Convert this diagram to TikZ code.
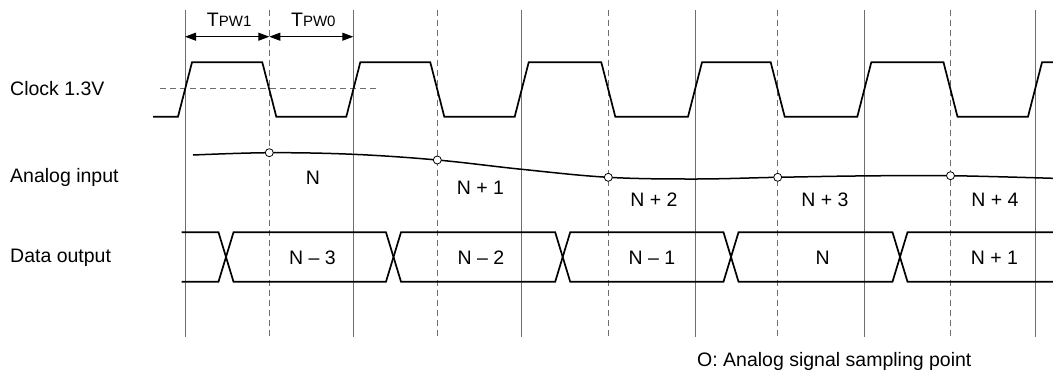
\documentclass[tikz,border=0pt]{standalone}
\usepackage{fontspec}
\setmainfont{Liberation Sans}
\usepackage{tikz}
\usetikzlibrary{calc,arrows.meta}
\definecolor{ink}{HTML}{000000}
\definecolor{grid}{HTML}{6E6E6E}
\tikzset{
  wave/.style={draw=ink, line width=1.7pt, line join=miter},
  solidgrid/.style={draw=grid, line width=0.9pt},
  dashgrid/.style={draw=grid, line width=0.9pt, dash pattern=on 6pt off 4pt},
  thresh/.style={draw=grid, line width=0.9pt, dash pattern=on 6pt off 4pt},
  dim/.style={draw=ink, line width=0.9pt, {Triangle[length=11pt,width=8pt]}-{Triangle[length=11pt,width=8pt]}},
  spl/.style={circle, draw=ink, fill=white, line width=0.8pt, inner sep=0pt, minimum size=8pt},
  lab/.style={text=ink, font=\fontsize{19.5}{21}\selectfont, inner sep=0pt},
  sig/.style={lab, anchor=west},
}
\newcommand{\tpw}[1]{T{\fontsize{15}{17}\selectfont PW#1}}

\begin{document}
\begin{tikzpicture}[x=1pt,y=-1pt]
  \useasboundingbox (0,0) rectangle (1053,376);
  \def\hi{62.3} \def\lo{116.7} \def\top{232.3} \def\bot{281.7} \def\mid{257}
  % time grid
  \foreach \x in {185,353.3,521.7,695,864.3,1035}
    \draw[solidgrid] (\x,10) -- (\x,337);
  \foreach \x in {269.3,437.3,608.3,777.7,950.5}
    \draw[dashgrid] (\x,10) -- (\x,337);
  % signal names
  \node[sig] (clk) at (10,89) {Clock 1.3V};
  \node[sig] (ain) at (10,177.5) {Analog input};
  \node[sig] (dout) at (10,258) {Data output};
  % pulse widths
  \coordinate (r0) at (185,36.7);
  \coordinate (f0) at (269.3,36.7);
  \coordinate (r1) at (353.3,36.7);
  \draw[dim] (r0) -- (f0);
  \draw[dim] (f0) -- (r1);
  \node[lab, anchor=base] (tpw1) at ($(r0)!0.5!(f0)+(2,-10)$) {\tpw{1}};
  \node[lab, anchor=base] (tpw0) at ($(f0)!0.5!(r1)+(2,-10)$) {\tpw{0}};
  % clock
  \draw[thresh] (160,88.3) -- (377,88.3);
  \draw[wave] (153,\lo) -- (178,\lo) -- (192,\hi)
    foreach \f/\r in {269.3/353.3,437.3/521.7,608.3/695,777.7/864.3,950.5/1035}
      { -- ({\f-7},\hi) -- ({\f+7},\lo) -- ({\r-7},\lo) -- ({\r+7},\hi) }
    -- (1053,\hi);
  % analog input
  \draw[wave, line width=1.5pt] plot[smooth, tension=0.6] coordinates {
    (193,155) (269.3,152.7) (353.3,154.3) (437.3,160) (521.7,169.3)
    (608.3,177.3) (695,179) (777.7,177.3) (864.3,175.9) (950.5,175.7) (1053,178.3)};
  \foreach \x/\y [count=\i] in {269.3/152.7,437.3/160,608.3/177.3,777.7/177.3,950.5/175.7}
    \node[spl] (s\i) at (\x,\y) {};
  \node[lab] (a0) at (313,178) {N};
  \node[lab] (a1) at (480.5,187.3) {N + 1};
  \node[lab] (a2) at (654,200) {N + 2};
  \node[lab] (a3) at (825,200) {N + 3};
  \node[lab] (a4) at (995,200) {N + 4};
  % data output
  \draw[wave] (181.7,\top) -- (218.5,\top) -- (226,\mid) -- (218.5,\bot) -- (181.7,\bot);
  \foreach \a/\b in {226/393.5,393.5/562.7,562.7/731,731/900}
    \draw[wave] (\a,\mid) -- ({\a+7.5},\top) -- ({\b-7.5},\top) -- (\b,\mid)
      -- ({\b-7.5},\bot) -- ({\a+7.5},\bot) -- cycle;
  \draw[wave] (1053,\top) -- (907.5,\top) -- (900,\mid) -- (907.5,\bot) -- (1053,\bot);
  \node[lab] (d0) at (312.5,258) {N \textendash{} 3};
  \node[lab] (d1) at (481,258) {N \textendash{} 2};
  \node[lab] (d2) at (652,258) {N \textendash{} 1};
  \node[lab] (d3) at (822.7,258) {N};
  \node[lab] (d4) at (994.5,258) {N + 1};
  % legend
  \node[sig] (note) at (697,361) {O: Analog signal sampling point};
\end{tikzpicture}
\end{document}
